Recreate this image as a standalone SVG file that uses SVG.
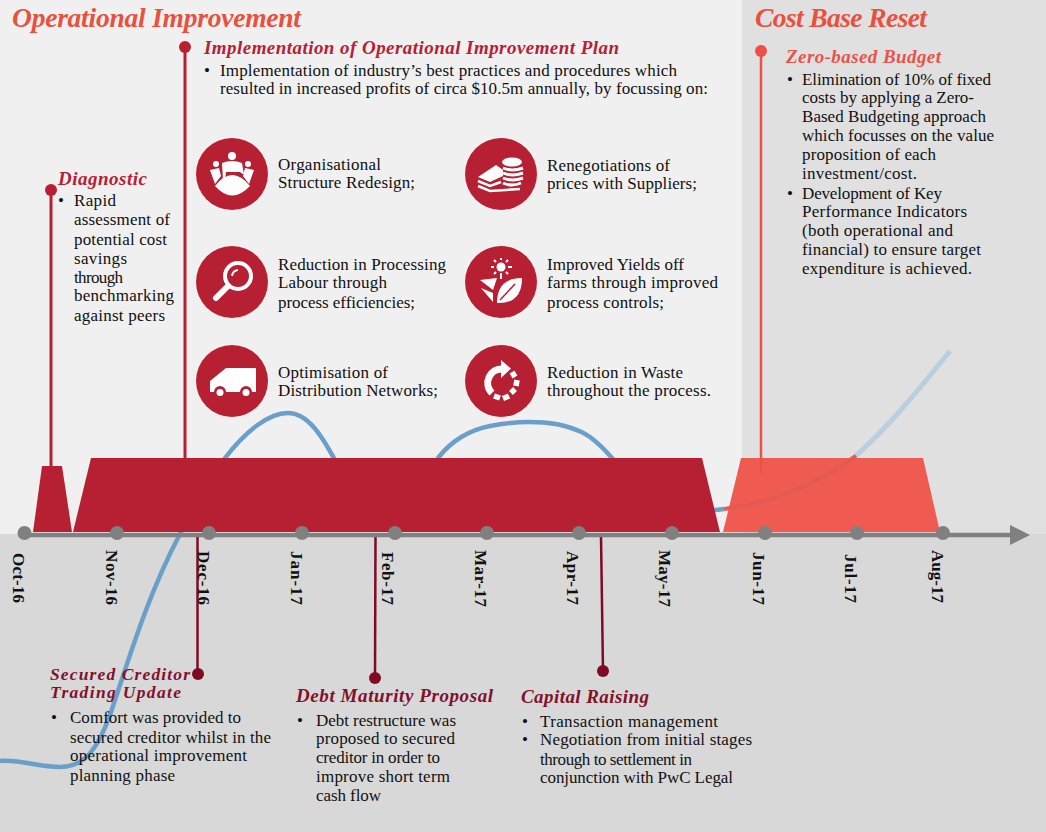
<svg xmlns="http://www.w3.org/2000/svg" width="1046" height="832" viewBox="0 0 1046 832">
<style>
text{font-family:"Liberation Serif","DejaVu Serif",serif;fill:#111}
.b{font-size:17px}
.h{font-size:19px;font-weight:bold;font-style:italic;fill:#b72033}
.hd{font-size:19px;font-weight:bold;font-style:italic;fill:#82102b}
.hd2{font-size:17.500px;font-weight:bold;font-style:italic;fill:#82102b}
.hs{font-size:19px;font-weight:bold;font-style:italic;fill:#e9534a}
.t{font-size:27.500px;font-weight:bold;font-style:italic;fill:#e8503f}
.m{font-size:17px;font-weight:bold}
.ic{fill:#b72033}
.w{fill:#fff}
.ws{fill:none;stroke:#fff}
.dot{fill:#808080}
</style>
<rect x="0" y="0" width="742" height="534" fill="#f0f0f0"/>
<rect x="742" y="0" width="304" height="534" fill="#e0e0e0"/>
<rect x="0" y="534" width="1046" height="298" fill="#d8d8d8"/>
<g id="connectors" fill="none">
<path id="trend" d="M0 761C20 759 38 767 60 767C85 767 98 748 110 715C125 672 145 600 180 534C195 505 210 478 225 458C245 432 268 413 288 413C308 413 322 436 336 462L340 480L430 480L438 458C452 440 470 430 490 426C525 419 565 420 590 437C598 443 605 450 612 458L640 490L700 512L724 509" stroke="#6a9fca" stroke-width="4.500"/>
<path d="M760 503C800 493 835 476 860 452C890 425 920 388 950 351" stroke="#b9cfdf" stroke-width="5"/>
<path d="M51 190V466" stroke="#b72033" stroke-width="3"/>
<path d="M185 47V458" stroke="#b72033" stroke-width="3"/>
<path d="M197.500 536V674" stroke="#7f0a24" stroke-width="2.500"/>
<path d="M375.500 536L375 678" stroke="#7f0a24" stroke-width="2.500"/>
<path d="M601 536L603 671" stroke="#7f0a24" stroke-width="2.500"/>
</g>
<g id="bars">
<polygon points="33,532 42,466 62,466 72,532" fill="#b72033"/>
<polygon points="73,532 91,458 702,458 720,532" fill="#b72033"/>
<polygon points="723,532 741,458 923,458 940,532" fill="#ef5b50"/>
<path d="M724 509C770 504 815 485 856 456" fill="none" stroke="#e25a50" stroke-width="4"/>
<path d="M761 47V473" stroke="#ef5046" stroke-width="2.500" fill="none"/>
</g>
<g id="axis">
<path d="M24 535H1012" stroke="#808080" stroke-width="4.500" fill="none"/>
<polygon points="1010,525 1030,535 1010,545" fill="#808080"/>
<circle class="dot" cx="24.500" cy="533" r="7"/><circle class="dot" cx="117" cy="533" r="7"/><circle class="dot" cx="209" cy="533" r="7"/><circle class="dot" cx="302" cy="533" r="7"/><circle class="dot" cx="395" cy="533" r="7"/><circle class="dot" cx="487" cy="533" r="7"/><circle class="dot" cx="579" cy="533" r="7"/><circle class="dot" cx="672" cy="533" r="7"/><circle class="dot" cx="765" cy="533" r="7"/><circle class="dot" cx="857" cy="533" r="7"/><circle class="dot" cx="943" cy="533" r="7"/>
<text class="m" transform="translate(13 553) rotate(90)" textLength="50">Oct-16</text>
<text class="m" transform="translate(106 550) rotate(90)" textLength="55">Nov-16</text>
<text class="m" transform="translate(198 551) rotate(90)" textLength="54">Dec-16</text>
<text class="m" transform="translate(291 551) rotate(90)" textLength="54">Jan-17</text>
<text class="m" transform="translate(382 552) rotate(90)" textLength="53">Feb-17</text>
<text class="m" transform="translate(475 550) rotate(90)" textLength="57">Mar-17</text>
<text class="m" transform="translate(567 551) rotate(90)" textLength="54">Apr-17</text>
<text class="m" transform="translate(659 550) rotate(90)" textLength="57">May-17</text>
<text class="m" transform="translate(753 552) rotate(90)" textLength="53">Jun-17</text>
<text class="m" transform="translate(845 554) rotate(90)" textLength="49">Jul-17</text>
<text class="m" transform="translate(932 550) rotate(90)" textLength="53">Aug-17</text>
</g>
<g id="titles">
<text class="t" x="12" y="27" textLength="289">Operational Improvement</text>
<text class="t" x="755" y="27" textLength="172">Cost Base Reset</text>
</g>
<g id="node-implementation">
<circle cx="185" cy="47" r="6" fill="#b72033"/>
<text class="h" x="204" y="54" textLength="415">Implementation of Operational Improvement Plan</text>
<text class="b" x="204" y="76">•</text>
<text class="b" x="220" y="76" textLength="457">Implementation of industry’s best practices and procedures which</text>
<text class="b" x="220" y="94" textLength="488">resulted in increased profits of circa $10.5m annually, by focussing on:</text>
</g>
<g id="node-diagnostic">
<circle cx="51" cy="190" r="6" fill="#b72033"/>
<text class="h" x="58" y="185" textLength="89">Diagnostic</text>
<text class="b" x="58" y="206">•</text>
<text class="b" x="74" y="206" textLength="42">Rapid</text>
<text class="b" x="74" y="225" textLength="96">assessment of</text>
<text class="b" x="74" y="245" textLength="93">potential cost</text>
<text class="b" x="74" y="264" textLength="53">savings</text>
<text class="b" x="74" y="283" textLength="49">through</text>
<text class="b" x="74" y="301" textLength="100">benchmarking</text>
<text class="b" x="74" y="321" textLength="91">against peers</text>
</g>
<g id="node-org">
<circle class="ic" cx="232" cy="174" r="36"/>
<circle class="w" cx="232" cy="156" r="4"/><circle class="w" cx="216" cy="164" r="3"/><circle class="w" cx="248" cy="164" r="3"/>
<path class="w" d="M215 186Q232 164 250 186Q232 205 215 186Z"/>
<path class="w" d="M210 170L219 168L221 176L215 184Z M254 170L245 168L243 176L249 184Z M222 163Q232 159 242 163L244 175L240 172H226L225 180H223Z"/>
<text class="b" x="278" y="170" textLength="103">Organisational</text>
<text class="b" x="278" y="188" textLength="137">Structure Redesign;</text>
</g>
<g id="node-labour">
<circle class="ic" cx="232" cy="282" r="36"/>
<circle class="ws" cx="238" cy="276" r="13" stroke-width="4"/>
<path class="ws" d="M228 286L216 298" stroke-width="6" stroke-linecap="round"/>
<path class="ws" d="M232 276A7 7 0 0 1 238 270" stroke-width="2"/>
<text class="b" x="278" y="270" textLength="168">Reduction in Processing</text>
<text class="b" x="278" y="288" textLength="109">Labour through</text>
<text class="b" x="278" y="308" textLength="137">process efficiencies;</text>
</g>
<g id="node-distribution">
<circle class="ic" cx="232" cy="381" r="36"/>
<path class="w" d="M210 392V381L226 368H256V392H252A6 6 0 0 0 240 392H226A6 6 0 0 0 214 392Z"/>
<circle class="w" cx="220" cy="392.500" r="3.500"/><circle class="w" cx="246" cy="392.500" r="3.500"/>
<text class="b" x="278" y="378" textLength="110">Optimisation of</text>
<text class="b" x="278" y="396" textLength="160">Distribution Networks;</text>
</g>
<g id="node-suppliers">
<circle class="ic" cx="501" cy="174" r="36"/>
<ellipse class="w" cx="512" cy="162" rx="10" ry="4.500"/>
<path class="ws" d="M503 168Q512 172 523 168M503 173Q512 177 523 173M503 178Q512 182 523 178M503 183Q512 187 521 183" stroke-width="3"/>
<path class="w" d="M478 177L496 165L503 170V176L490 182Z"/>
<path class="ws" d="M478 181L490 186L501 182M478 186L490 191L520 189" stroke-width="2.500"/>
<text class="b" x="547" y="171" textLength="123">Renegotiations of</text>
<text class="b" x="547" y="189" textLength="150">prices with Suppliers;</text>
</g>
<g id="node-yields">
<circle class="ic" cx="501" cy="282" r="36"/>
<circle class="w" cx="501" cy="267" r="4.500"/>
<path class="ws" d="M501 258V260M501 273V279M491 267H494M508 267H512M494 260L496 262M508 260L506 262M494 274L496 272M508 274L506 272" stroke-width="2"/>
<path class="w" d="M480 280L497 278L493 290Z M481 288L493 293L493 302Z"/>
<path class="w" d="M497 303Q497 278 522 278Q522 303 499 303Z"/>
<path d="M500 300L515 284" stroke="#b72033" stroke-width="1.500" fill="none"/>
<text class="b" x="547" y="270" textLength="137">Improved Yields off</text>
<text class="b" x="547" y="288" textLength="171">farms through improved</text>
<text class="b" x="547" y="308" textLength="117">process controls;</text>
</g>
<g id="node-waste">
<circle class="ic" cx="501" cy="381" r="36"/>
<path class="ws" d="M503 369A14 14 0 0 0 492 393" stroke-width="7"/>
<polygon class="w" points="501,360 511,368.500 501,378"/>
<path class="ws" d="M494 396L500 398M503 398.500L509 396M511 393L515 389M516 386L517 380M515 377L512 372" stroke-width="5.500"/>
<text class="b" x="547" y="378" textLength="136">Reduction in Waste</text>
<text class="b" x="547" y="396" textLength="164">throughout the process.</text>
</g>
<g id="node-zero">
<circle cx="761" cy="51" r="6" fill="#ef5046"/>
<text class="hs" x="786" y="63" textLength="155">Zero-based Budget</text>
<text class="b" x="787" y="85">•</text>
<text class="b" x="802" y="85" textLength="189">Elimination of 10% of fixed</text>
<text class="b" x="802" y="103" textLength="172">costs by applying a Zero-</text>
<text class="b" x="802" y="122" textLength="184">Based Budgeting approach</text>
<text class="b" x="802" y="141" textLength="192">which focusses on the value</text>
<text class="b" x="802" y="160" textLength="134">proposition of each</text>
<text class="b" x="802" y="179" textLength="115">investment/cost.</text>
<text class="b" x="787" y="199">•</text>
<text class="b" x="802" y="199" textLength="140">Development of Key</text>
<text class="b" x="802" y="217" textLength="165">Performance Indicators</text>
<text class="b" x="802" y="236" textLength="151">(both operational and</text>
<text class="b" x="802" y="255" textLength="179">financial) to ensure target</text>
<text class="b" x="802" y="274" textLength="170">expenditure is achieved.</text>
</g>
<g id="node-creditor">
<circle cx="198" cy="674" r="6" fill="#7f0a24"/>
<text class="hd2" x="50" y="680" textLength="140">Secured Creditor</text>
<text class="hd2" x="50" y="698" textLength="131">Trading Update</text>
<text class="b" x="51" y="723">•</text>
<text class="b" x="70" y="723" textLength="171">Comfort was provided to</text>
<text class="b" x="70" y="743" textLength="201">secured creditor whilst in the</text>
<text class="b" x="70" y="761" textLength="177">operational improvement</text>
<text class="b" x="70" y="781" textLength="105">planning phase</text>
</g>
<g id="node-debt">
<circle cx="375" cy="678" r="6" fill="#7f0a24"/>
<text class="hd" x="296" y="702" textLength="197">Debt Maturity Proposal</text>
<text class="b" x="297" y="726">•</text>
<text class="b" x="316" y="726" textLength="140">Debt restructure was</text>
<text class="b" x="316" y="744" textLength="139">proposed to secured</text>
<text class="b" x="316" y="763" textLength="124">creditor in order to</text>
<text class="b" x="316" y="782" textLength="134">improve short term</text>
<text class="b" x="316" y="801" textLength="65">cash flow</text>
</g>
<g id="node-capital">
<circle cx="603" cy="671" r="6" fill="#7f0a24"/>
<text class="hd" x="521" y="703" textLength="128">Capital Raising</text>
<text class="b" x="522" y="727">•</text>
<text class="b" x="540" y="727" textLength="178">Transaction management</text>
<text class="b" x="522" y="745">•</text>
<text class="b" x="540" y="745" textLength="212">Negotiation from initial stages</text>
<text class="b" x="540" y="765" textLength="152">through to settlement in</text>
<text class="b" x="540" y="783" textLength="193">conjunction with PwC Legal</text>
</g>
</svg>
